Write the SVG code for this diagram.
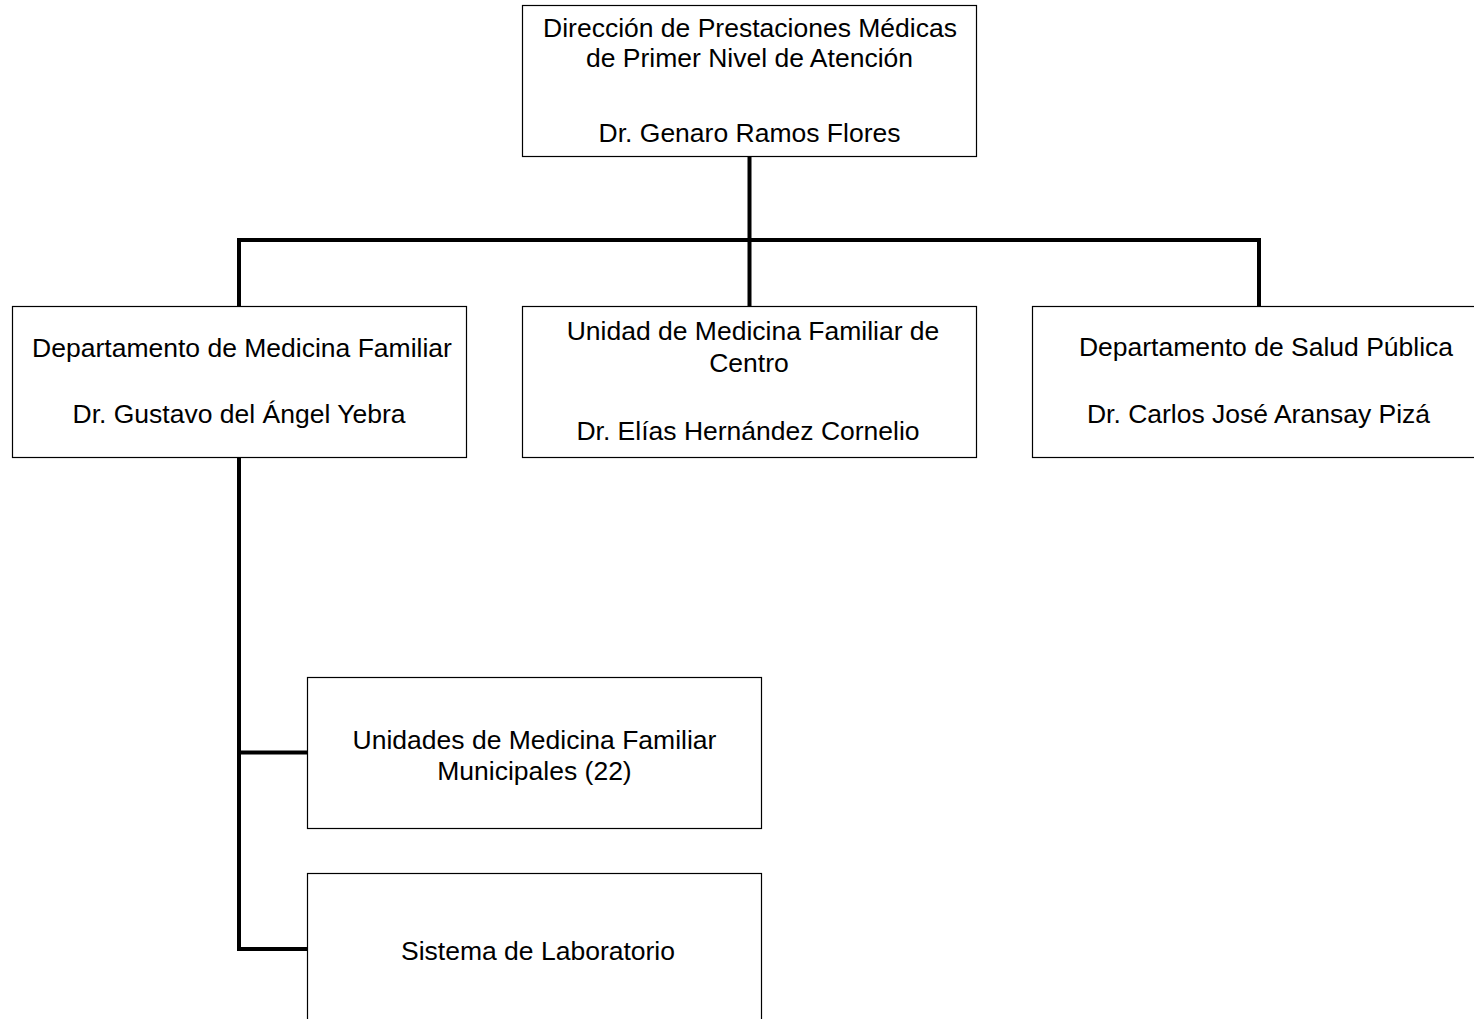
<svg xmlns="http://www.w3.org/2000/svg" width="1474" height="1019" viewBox="0 0 1474 1019">
<style>
.box{fill:#fff;stroke:#000;stroke-width:1.2}
.t{font-family:"Liberation Sans",Arial,sans-serif;font-size:26.5px;fill:#000;text-anchor:middle}
.conn{fill:none;stroke:#000;stroke-width:4;stroke-linecap:butt}
</style>
<rect width="1474" height="1019" fill="#fff"/>
<g id="connectors">
<line class="conn" x1="749.5" y1="157" x2="749.5" y2="307"/>
<line class="conn" x1="237" y1="240" x2="1261" y2="240"/>
<line class="conn" x1="239" y1="238" x2="239" y2="307"/>
<line class="conn" x1="1259" y1="238" x2="1259" y2="307"/>
<line class="conn" x1="239" y1="458" x2="239" y2="951"/>
<line class="conn" x1="237" y1="752.5" x2="308" y2="752.5"/>
<line class="conn" x1="237" y1="949" x2="308" y2="949"/>
</g>
<g id="node-direccion">
<rect class="box" x="522.5" y="5.5" width="454" height="151"/>
<text class="t" x="750" y="36.7">Dirección de Prestaciones Médicas</text>
<text class="t" x="749.5" y="66.7">de Primer Nivel de Atención</text>
<text class="t" x="749.5" y="141.7">Dr. Genaro Ramos Flores</text>
</g>
<g id="node-medicina-familiar">
<rect class="box" x="12.5" y="306.5" width="454" height="151"/>
<text class="t" x="242" y="356.7">Departamento de Medicina Familiar</text>
<text class="t" x="239" y="423.3">Dr. Gustavo del Ángel Yebra</text>
</g>
<g id="node-umf-centro">
<rect class="box" x="522.5" y="306.5" width="454" height="151"/>
<text class="t" x="753" y="339.8">Unidad de Medicina Familiar de</text>
<text class="t" x="749" y="372">Centro</text>
<text class="t" x="748" y="440">Dr. Elías Hernández Cornelio</text>
</g>
<g id="node-salud-publica">
<rect class="box" x="1032.5" y="306.5" width="454" height="151"/>
<text class="t" x="1266" y="355.5">Departamento de Salud Pública</text>
<text class="t" x="1258.5" y="423.3">Dr. Carlos José Aransay Pizá</text>
</g>
<g id="node-umf-municipales">
<rect class="box" x="307.5" y="677.5" width="454" height="151"/>
<text class="t" x="534.5" y="749.3">Unidades de Medicina Familiar</text>
<text class="t" x="534.5" y="780">Municipales (22)</text>
</g>
<g id="node-laboratorio">
<rect class="box" x="307.5" y="873.5" width="454" height="151"/>
<text class="t" x="538" y="960">Sistema de Laboratorio</text>
</g>
</svg>
